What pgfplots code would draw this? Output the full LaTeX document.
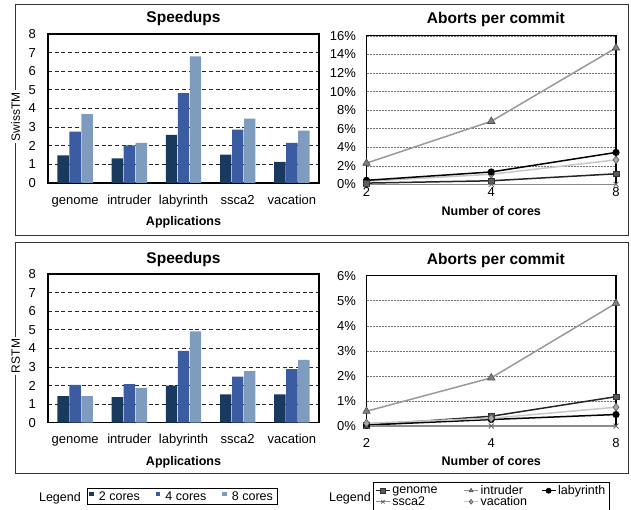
\documentclass[border=0pt]{standalone}
\usepackage{fontspec}
\setmainfont{Liberation Sans}
\usepackage{pgfplots}
\pgfplotsset{compat=1.18}
\definecolor{ctwo}{RGB}{25,57,95}
\definecolor{cfour}{RGB}{59,92,160}
\definecolor{ceight}{RGB}{127,156,191}
\newcommand{\ttl}{\fontsize{15.5}{18}\selectfont\bfseries}
\newcommand{\lbl}{\fontsize{12.5}{15}\selectfont\bfseries}
\newcommand{\tck}{\fontsize{13}{15.6}\selectfont}
\newcommand{\lgd}{\fontsize{12.5}{14}\selectfont}
\newcommand{\ylb}{\fontsize{12}{14}\selectfont}
\pgfplotsset{
  barax/.style={
    anchor=south west, scale only axis, width=271pt,
    xmin=-0.5, xmax=4.5, ymin=0, ymax=8, ytick={0,...,8}, xtick={0,...,4},
    enlargelimits=false,
    xticklabels={genome,intruder,labyrinth,ssca2,vacation},
    ybar=0.6pt, bar width=11.4pt,
    major tick length=0pt,
    ymajorgrids, major grid style={black!85, line width=0.8pt, dash pattern=on 4pt off 2.7pt},
    axis line style={black, line width=1.3pt},
    tick label style={font=\tck},
    yticklabel style={xshift=-8.5pt},
    /pgf/number format/assume math mode=true,
    title=Speedups,
    title style={font=\ttl, at={(axis description cs:0.5,1)}, anchor=base},
    xlabel=Applications,
    xlabel style={font=\lbl, at={(axis description cs:0.5,0)}, anchor=base, yshift=-42.5pt},
  },
  lineax/.style={
    anchor=south west, scale only axis, width=249.5pt,
    xmin=0, xmax=2, xtick={0,1,2}, xticklabels={2,4,8},
    enlargelimits=false, clip=false,
    major tick length=0pt,
    ymajorgrids, major grid style={black!55, line width=0.5pt, densely dotted},
    axis line style={black, line width=1.2pt},
    tick label style={font=\tck},
    yticklabel={\pgfmathprintnumber{\tick}\%},
    yticklabel style={xshift=-7pt},
    /pgf/number format/assume math mode=true,
    title=Aborts per commit,
    title style={font=\ttl, at={(axis description cs:0.5,1)}, anchor=base, xshift=4.6pt},
    xlabel=Number of cores,
    xlabel style={font=\lbl, at={(axis description cs:0.5,0)}, anchor=base},
  },
  sgenome/.style={draw=black!85, line width=1.5pt, mark=square*, mark size=2.8pt, mark options={fill=black!65, draw=black!80, solid, line width=0.6pt}},
  sintruder/.style={draw=black!40, line width=1.5pt, mark=triangle*, mark size=4.3pt, mark options={fill=black!50, draw=black!70, solid, line width=0.6pt}},
  slaby/.style={draw=black, line width=1.5pt, mark=*, mark size=2.8pt, mark options={fill=black, draw=black, solid}},
  sssca/.style={draw=black!45, line width=1.5pt, mark=x, mark size=3.5pt, mark options={draw=black!60, solid, line width=0.8pt}},
  svac/.style={draw=black!22, line width=1.5pt, mark=diamond*, mark size=4pt, mark options={fill=black!35, draw=black!65, solid, line width=0.6pt}},
  barleg/.style={legend image code/.code={\path[##1, draw=none] (0pt,0pt) rectangle (4.5pt,4.5pt);}},
}
\begin{document}
\begin{tikzpicture}
\path[use as bounding box] (0pt,0pt) rectangle (631pt,509pt);
% panel frames
\draw[black!80, line width=1pt] (15pt,273pt) rectangle (628pt,504pt);
\draw[black!80, line width=1pt] (15pt,36pt) rectangle (628pt,266pt);

% ---------- top left: SwissTM speedups
\begin{axis}[barax, at={(48pt,326pt)}, height=149pt,
  xticklabel style={anchor=base, yshift=-22pt},
  title style={yshift=5.3pt}]
\addplot[fill=ctwo, draw=none] coordinates {(0,1.48) (1,1.32) (2,2.58) (3,1.52) (4,1.13)};
\addplot[fill=cfour, draw=none] coordinates {(0,2.76) (1,2.02) (2,4.83) (3,2.86) (4,2.16)};
\addplot[fill=ceight, draw=none] coordinates {(0,3.70) (1,2.16) (2,6.80) (3,3.45) (4,2.81)};
\end{axis}

% ---------- top right: SwissTM aborts
\begin{axis}[lineax, at={(366.5pt,324.5pt)}, height=148.7pt,
  ymin=0, ymax=16, ytick={0,2,...,16},
  xticklabel style={anchor=base, yshift=-12.5pt},
  xlabel style={yshift=-31.5pt},
  title style={yshift=5.8pt}]
\addplot[sintruder] coordinates {(0,2.3) (1,6.8) (2,14.7)};
\addplot[svac] coordinates {(0,0.35) (1,1.1) (2,2.65)};
\addplot[slaby] coordinates {(0,0.45) (1,1.35) (2,3.45)};
\addplot[sgenome] coordinates {(0,0.15) (1,0.4) (2,1.15)};
\addplot[sssca] coordinates {(0,0.02) (1,0.02) (2,0.02)};
\end{axis}

% ---------- bottom left: RSTM speedups
\begin{axis}[barax, at={(48pt,86.3pt)}, height=148.7pt,
  xticklabel style={anchor=base, yshift=-21pt},
  title style={yshift=4.7pt},
  legend cell align=left,
  legend style={at={(axis description cs:0.144,-0.439)}, anchor=north west,
    draw=black, line width=0.8pt, font=\lgd, legend columns=3,
    inner xsep=2pt, inner ysep=1pt,
    /tikz/every odd column/.append style={column sep=3pt},
    /tikz/every even column/.append style={column sep=14pt}}]
\addplot[fill=ctwo, draw=none, barleg] coordinates {(0,1.43) (1,1.38) (2,1.99) (3,1.53) (4,1.53)};
\addlegendentry{2 cores}
\addplot[fill=cfour, draw=none, barleg] coordinates {(0,2.03) (1,2.08) (2,3.87) (3,2.48) (4,2.88)};
\addlegendentry{4 cores}
\addplot[fill=ceight, draw=none, barleg] coordinates {(0,1.43) (1,1.88) (2,4.92) (3,2.78) (4,3.38)};
\addlegendentry{8 cores}
\end{axis}

% ---------- bottom right: RSTM aborts
\begin{axis}[lineax, at={(366.5pt,82.7pt)}, height=150.7pt,
  ymin=0, ymax=6, ytick={0,1,...,6},
  xticklabel style={anchor=base, yshift=-21.6pt},
  xlabel style={yshift=-39.2pt},
  title style={yshift=5.3pt},
  legend cell align=left,
  legend style={at={(axis description cs:0.026,-0.37)}, anchor=north west,
    draw=black, line width=0.8pt, font=\lgd, legend columns=3,
    inner xsep=2pt, inner ysep=1pt, row sep=-3.5pt,
    /tikz/column 2/.style={column sep=24pt},
    /tikz/column 4/.style={column sep=12pt}},
  legend image code/.code={\draw[mark repeat=2, mark phase=2, #1, line width=1pt, mark size=2.4pt] plot coordinates {(0pt,0pt) (7pt,0pt) (14pt,0pt)};}]
\addplot[sgenome] coordinates {(0,0.05) (1,0.4) (2,1.18)};
\addlegendentry{genome}
\addplot[sintruder] coordinates {(0,0.6) (1,1.93) (2,4.9)};
\addlegendentry{intruder}
\addplot[slaby] coordinates {(0,0.05) (1,0.27) (2,0.47)};
\addlegendentry{labyrinth}
\addplot[sssca] coordinates {(0,0.01) (1,0.01) (2,0.01)};
\addlegendentry{ssca2}
\addplot[svac] coordinates {(0,0.12) (1,0.32) (2,0.76)};
\addlegendentry{vacation}
\end{axis}

% y labels over the frame
\node[rotate=90, anchor=base, fill=white, inner sep=2pt, font=\ylb] at (20pt,392.3pt) {SwissTM};
\node[rotate=90, anchor=base, fill=white, inner sep=2pt, font=\ylb] at (20pt,153pt) {RSTM};
% legend captions
\node[anchor=base east, inner sep=0pt, font=\lgd] at (81pt,7.3pt) {Legend};
\node[anchor=base east, inner sep=0pt, font=\lgd] at (371pt,7.3pt) {Legend};
\end{tikzpicture}
\end{document}
